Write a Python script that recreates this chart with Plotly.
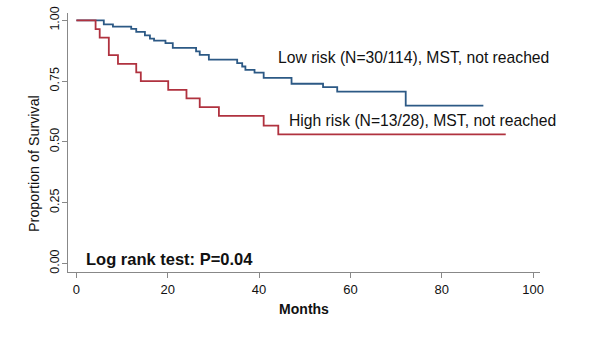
import plotly.graph_objects as go

# Kaplan-Meier step data (months, survival proportion)
low_months = [0, 6.0, 8.0, 12.0, 13.1, 15.0, 16.1, 17.0, 19.5, 21.1, 26.2, 27.0, 29.0,
              35.2, 36.3, 37.0, 39.0, 41.0, 47.1, 54.0, 57.1, 72.1, 89.1]
low_surv = [1.0, 0.983, 0.974, 0.965, 0.952, 0.938, 0.925, 0.916, 0.906, 0.887, 0.872, 0.858, 0.838,
            0.824, 0.810, 0.796, 0.785, 0.763, 0.739, 0.725, 0.707, 0.649, 0.649]

high_months = [0, 4.2, 5.1, 7.1, 9.1, 13.1, 14.1, 20.1, 24.1, 27.0, 31.2, 41.0, 44.2, 94.0]
high_surv = [1.0, 0.964, 0.929, 0.857, 0.821, 0.786, 0.750, 0.714, 0.679, 0.643, 0.607, 0.567, 0.531, 0.531]

x_ticks = [0, 20, 40, 60, 80, 100]
y_ticks = [0, 0.25, 0.5, 0.75, 1.0]
y_tick_labels = ["0.00", "0.25", "0.50", "0.75", "1.00"]

y_title = "Proportion of Survival"
low_label = "Low risk (N=30/114), MST, not reached"
high_label = "High risk (N=13/28), MST, not reached"
test_label = "<b>Log rank test: P=0.04</b>"

BLUE = "#2c5985"
RED = "#b0323f"
FONT = "Arial, Liberation Sans, sans-serif"

fig = go.Figure()
fig.add_trace(go.Scatter(x=low_months, y=low_surv, mode="lines", line_shape="hv",
                         line=dict(color=BLUE, width=1.8), name="Low risk", showlegend=False))
fig.add_trace(go.Scatter(x=high_months, y=high_surv, mode="lines", line_shape="hv",
                         line=dict(color=RED, width=1.8), name="High risk", showlegend=False))

fig.add_annotation(x=43.8, y=0.845, text=low_label, showarrow=False, xanchor="left", yanchor="middle",
                   font=dict(family=FONT, size=15.7, color="#111111"))
fig.add_annotation(x=46.2, y=0.590, text=high_label, showarrow=False, xanchor="left", yanchor="middle",
                   font=dict(family=FONT, size=15.7, color="#111111"))
fig.add_annotation(x=1.7, y=0.019, text=test_label, showarrow=False, xanchor="left", yanchor="middle",
                   font=dict(family=FONT, size=16.5, color="#111111"))
# y-axis title placed as rotated annotation
fig.add_annotation(xref="paper", yref="paper", x=0, y=0.42, xshift=-33.3, text=y_title,
                   textangle=-90, showarrow=False, xanchor="center", yanchor="middle",
                   font=dict(family=FONT, size=14.3, color="#111111"))

fig.update_layout(
    width=600, height=338,
    margin=dict(l=68.3, r=60, t=13.3, b=66.3),
    paper_bgcolor="white", plot_bgcolor="white",
    font=dict(family=FONT, color="#111111"),
    xaxis=dict(range=[-1.84, 101.5], tickvals=x_ticks, ticks="outside", ticklen=5, tickcolor="#888888",
               showline=True, linecolor="#888888", linewidth=1.3, showgrid=False, zeroline=False,
               automargin=False,
               tickfont=dict(size=13, family=FONT, color="#111111"),
               title=dict(text="<b>Months</b>", font=dict(size=14, family=FONT, color="#111111"), standoff=8)),
    yaxis=dict(range=[-0.035, 1.03], tickvals=y_ticks, ticktext=y_tick_labels, tickangle=-90,
               ticks="outside", ticklen=5, tickcolor="#888888", ticklabelstandoff=-2,
               showline=True, linecolor="#888888", linewidth=1.3, showgrid=False, zeroline=False,
               automargin=False,
               tickfont=dict(size=12.5, family=FONT, color="#111111")),
)

# remove the browser's default 8px body margin so the figure sits at the page origin
fig.write_html("out.html", config={"displayModeBar": False},
               post_script="document.body.style.margin='0';")
